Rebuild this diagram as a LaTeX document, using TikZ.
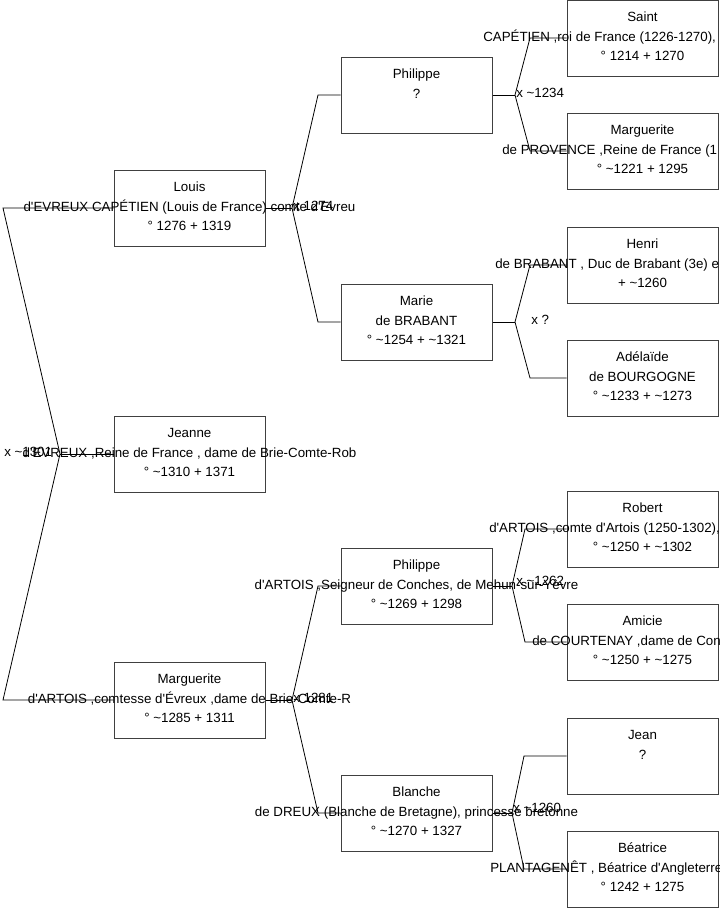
\documentclass[tikz,border=0pt]{standalone}
\usepackage{fontspec}
\setmainfont{Liberation Sans}[Ligatures=TeXOff]
\newcommand\apx{\textasciitilde}
\begin{document}
\begin{tikzpicture}[x=0.75pt,y=-0.75pt,
  box/.style={draw=black!75,line width=0.75pt,minimum width=113.25pt,minimum height=57pt,inner sep=0pt},
  txt/.style={anchor=base,inner sep=0pt,font=\fontsize{10pt}{12pt}\selectfont},
  txtw/.style={anchor=base west,inner sep=0pt,font=\fontsize{10pt}{12pt}\selectfont},
  link/.style={draw=black,line width=0.6pt},
  lbl/.style={anchor=base west,inner sep=0pt,font=\fontsize{10pt}{12pt}\selectfont}]
\useasboundingbox (0,0) rectangle (719,908);
% ---------------- boxes ----------------
\node[box] (louis) at (189.5,208) {};
\node[box] (jeanne) at (189.5,454) {};
\node[box] (marg) at (189.5,700) {};
\node[box] (phil) at (416.5,95) {};
\node[box] (marie) at (416.5,322) {};
\node[box] (phila) at (416.5,586) {};
\node[box] (blanche) at (416.5,813) {};
\node[box] (saint) at (642.5,38) {};
\node[box] (margp) at (642.5,151) {};
\node[box] (henri) at (642.5,265) {};
\node[box] (adel) at (642.5,378) {};
\node[box] (robert) at (642.5,529) {};
\node[box] (amicie) at (642.5,642) {};
\node[box] (jean) at (642.5,756) {};
\node[box] (beat) at (642.5,869) {};
% ---------------- texts ----------------
% Louis (top 170)
\node[txt] (louisA) at (189.5,191.7) {Louis};
\node[txt] (louisB) at (189.5,211.5) {d'EVREUX CAPÉTIEN (Louis de France) comte d'Evreu};
\node[txt] (louisC) at (189.5,230.7) {° 1276 + 1319};
% Jeanne (top 416)
\node[txt] (jeanneA) at (189.5,437.7) {Jeanne};
\node[txt] (jeanneB) at (189.5,457.5) {d'EVREUX ,Reine de France , dame de Brie-Comte-Rob};
\node[txt] (jeanneC) at (189.5,476.7) {° \apx1310 + 1371};
% Marguerite d'Artois (top 662)
\node[txt] (margA) at (189.5,683.7) {Marguerite};
\node[txt] (margB) at (189.5,703.5) {d'ARTOIS ,comtesse d'Évreux ,dame de Brie-Comte-R};
\node[txt] (margC) at (189.5,722.7) {° \apx1285 + 1311};
% Philippe (top 57)
\node[txt] (philA) at (416.5,78.7) {Philippe};
\node[txt] (philB) at (416.5,98.5) {?};
% Marie (top 284)
\node[txt] (marieA) at (416.5,305.7) {Marie};
\node[txt] (marieB) at (416.5,325.5) {de BRABANT};
\node[txt] (marieC) at (416.5,344.7) {° \apx1254 + \apx1321};
% Philippe d'Artois (top 548)
\node[txt] (philaA) at (416.5,569.7) {Philippe};
\node[txt] (philaB) at (416.5,589.5) {d'ARTOIS ,Seigneur de Conches, de Mehun-sur-Yèvre};
\node[txt] (philaC) at (416.5,608.7) {° \apx1269 + 1298};
% Blanche (top 775)
\node[txt] (blancheA) at (416.5,796.7) {Blanche};
\node[txt] (blancheB) at (416.5,816.5) {de DREUX (Blanche de Bretagne), princesse bretonne};
\node[txt] (blancheC) at (416.5,835.7) {° \apx1270 + 1327};
% Saint (top 0)
\node[txt] (saintA) at (642.5,21.7) {Saint};
\node[txtw] (saintB) at (483,41.5) {CAPÉTIEN ,roi de France (1226-1270),};
\node[txt] (saintC) at (642.5,60.7) {° 1214 + 1270};
% Marguerite de Provence (top 113)
\node[txt] (margpA) at (642.5,134.7) {Marguerite};
\node[txtw] (margpB) at (502,154.5) {de PROVENCE ,Reine de France (1};
\node[txt] (margpC) at (642.5,173.7) {° \apx1221 + 1295};
% Henri (top 227)
\node[txt] (henriA) at (642.5,248.7) {Henri};
\node[txtw] (henriB) at (495,268.5) {de BRABANT , Duc de Brabant (3e) e};
\node[txt] (henriC) at (642.5,287.7) {+ \apx1260};
% Adelaide (top 340)
\node[txt] (adelA) at (642.5,361.7) {Adélaïde};
\node[txt] (adelB) at (642.5,381.5) {de BOURGOGNE};
\node[txt] (adelC) at (642.5,400.7) {° \apx1233 + \apx1273};
% Robert (top 491)
\node[txt] (robertA) at (642.5,512.7) {Robert};
\node[txtw] (robertB) at (489,532.5) {d'ARTOIS ,comte d'Artois (1250-1302),};
\node[txt] (robertC) at (642.5,551.7) {° \apx1250 + \apx1302};
% Amicie (top 604)
\node[txt] (amicieA) at (642.5,625.7) {Amicie};
\node[txtw] (amicieB) at (532,645.5) {de COURTENAY ,dame de Con};
\node[txt] (amicieC) at (642.5,664.7) {° \apx1250 + \apx1275};
% Jean (top 718)
\node[txt] (jeanA) at (642.5,739.7) {Jean};
\node[txt] (jeanB) at (642.5,759.5) {?};
% Beatrice (top 831)
\node[txt] (beatA) at (642.5,852.7) {Béatrice};
\node[txtw] (beatB) at (490,872.5) {PLANTAGENÊT , Béatrice d'Angleterre};
\node[txt] (beatC) at (642.5,891.7) {° 1242 + 1275};
% ---------------- marriage labels ----------------
\node[lbl] (m0) at (4,456.5) {x \apx1301};
\node[lbl] (m1) at (293,210) {x 1274};
\node[lbl] (m2) at (293,702.5) {x 1281};
\node[lbl] (m3) at (516,97.5) {x \apx1234};
\node[lbl] (m4) at (531,324.5) {x ?};
\node[lbl] (m5) at (516,585) {x \apx1262};
\node[lbl] (m6) at (513,812.5) {x \apx1260};
% ---------------- junction coordinates ----------------
\coordinate (j0) at (60,454);
\coordinate (p0a) at (3,208);
\coordinate (p0b) at (3,700);
\coordinate (j1) at (292,208);
\coordinate (p1a) at (318,95);
\coordinate (p1b) at (318,322);
\coordinate (j2) at (292,700);
\coordinate (p2a) at (318,586);
\coordinate (p2b) at (318,813);
\coordinate (j3) at (515,95);
\coordinate (p3a) at (530,38);
\coordinate (p3b) at (530,151);
\coordinate (j4) at (515,322);
\coordinate (p4a) at (530,265);
\coordinate (p4b) at (530,378);
\coordinate (j5) at (512,586);
\coordinate (p5a) at (525,529);
\coordinate (p5b) at (525,642);
\coordinate (j6) at (512,813);
\coordinate (p6a) at (524,756);
\coordinate (p6b) at (524,869);
% ---------------- connectors ----------------
\draw[link] (jeanne.west) -- (j0);
\draw[link] (j0) -- (p0a) -- (louis.west);
\draw[link] (j0) -- (p0b) -- (marg.west);
\draw[link] (louis.east) -- (j1);
\draw[link] (j1) -- (p1a) -- (phil.west);
\draw[link] (j1) -- (p1b) -- (marie.west);
\draw[link] (marg.east) -- (j2);
\draw[link] (j2) -- (p2a) -- (phila.west);
\draw[link] (j2) -- (p2b) -- (blanche.west);
\draw[link] (phil.east) -- (j3);
\draw[link] (j3) -- (p3a) -- (saint.west);
\draw[link] (j3) -- (p3b) -- (margp.west);
\draw[link] (marie.east) -- (j4);
\draw[link] (j4) -- (p4a) -- (henri.west);
\draw[link] (j4) -- (p4b) -- (adel.west);
\draw[link] (phila.east) -- (j5);
\draw[link] (j5) -- (p5a) -- (robert.west);
\draw[link] (j5) -- (p5b) -- (amicie.west);
\draw[link] (blanche.east) -- (j6);
\draw[link] (j6) -- (p6a) -- (jean.west);
\draw[link] (j6) -- (p6b) -- (beat.west);
\end{tikzpicture}
\end{document}
